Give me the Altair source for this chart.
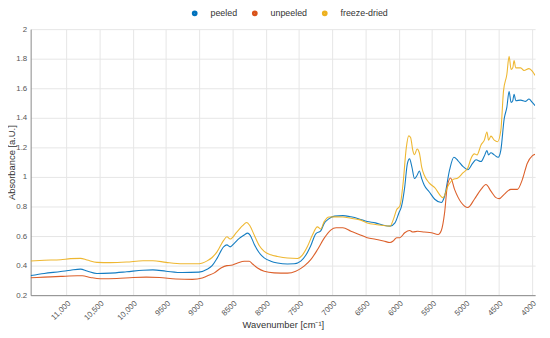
import altair as alt
import pandas as pd

# ---- data ----
peeled_wn = [11536, 11332, 11084, 10936, 10787, 10688, 10540, 10342, 10094, 9847, 9698, 9500, 9253, 9005,
             8883, 8808, 8734, 8635, 8586, 8537, 8475, 8400, 8325, 8275, 8235, 8175, 8100, 8025, 7925, 7825,
             7675, 7575, 7475, 7400, 7325, 7250, 7175, 7125, 7050, 6966, 6843, 6721, 6598, 6476, 6353, 6231,
             6133, 6059, 6000, 5961, 5912, 5873, 5839, 5804, 5765, 5726, 5692, 5657, 5618, 5545, 5461, 5362,
             5312, 5237, 5173, 5113, 5038, 4964, 4889, 4840, 4765, 4715, 4676, 4651, 4616, 4566, 4507, 4467,
             4417, 4377, 4343, 4313, 4288, 4268, 4243, 4169, 4094, 4044, 3995, 3952]
peeled_val = [0.333, 0.347, 0.360, 0.369, 0.376, 0.364, 0.347, 0.349, 0.358, 0.369, 0.371, 0.362, 0.353, 0.356,
              0.375, 0.400, 0.449, 0.527, 0.540, 0.527, 0.551, 0.584, 0.607, 0.620, 0.605, 0.545, 0.487, 0.452, 0.430, 0.418,
              0.411, 0.412, 0.430, 0.470, 0.535, 0.615, 0.635, 0.684, 0.718, 0.735, 0.738, 0.730, 0.716, 0.698, 0.689, 0.673,
              0.667, 0.689, 0.756, 0.800, 0.933, 1.089, 1.122, 1.067, 0.989, 1.011, 1.040, 0.989, 0.944, 0.900, 0.849, 0.827,
              0.871, 1.049, 1.133, 1.111, 1.071, 1.049, 1.093, 1.116, 1.104, 1.142, 1.178, 1.149, 1.164, 1.149, 1.133, 1.182,
              1.393, 1.471, 1.578, 1.504, 1.516, 1.560, 1.516, 1.520, 1.511, 1.527, 1.504, 1.482]

unpeeled_wn = [11536, 11332, 11084, 10837, 10760, 10639, 10490, 10240, 9995, 9797, 9599, 9352, 9104, 8956,
               8883, 8775, 8675, 8586, 8525, 8425, 8325, 8250, 8200, 8125, 8025, 7875, 7675, 7550, 7425, 7325,
               7225, 7125, 7025, 6943, 6843, 6721, 6598, 6476, 6353, 6231, 6133, 6084, 6034, 5985, 5912, 5839,
               5790, 5716, 5618, 5511, 5411, 5362, 5312, 5272, 5222, 5163, 5063, 4964, 4865, 4765, 4691, 4616,
               4541, 4492, 4417, 4318, 4218, 4144, 4069, 3995, 3952]
unpeeled_val = [0.318, 0.322, 0.327, 0.331, 0.331, 0.320, 0.311, 0.313, 0.320, 0.322, 0.320, 0.309, 0.307, 0.316,
                0.330, 0.351, 0.384, 0.400, 0.402, 0.418, 0.429, 0.429, 0.411, 0.384, 0.362, 0.351, 0.349, 0.362, 0.396, 0.440,
                0.507, 0.584, 0.640, 0.656, 0.656, 0.633, 0.611, 0.589, 0.578, 0.567, 0.556, 0.567, 0.589, 0.589, 0.622, 0.638,
                0.627, 0.633, 0.627, 0.622, 0.611, 0.638, 0.760, 0.938, 0.993, 0.916, 0.827, 0.793, 0.849, 0.916, 0.949, 0.904,
                0.860, 0.853, 0.882, 0.916, 0.916, 0.982, 1.093, 1.142, 1.153]

freeze_wn = [11536, 11332, 11084, 10936, 10787, 10688, 10540, 10342, 10094, 9847, 9698, 9500, 9253, 9005,
             8883, 8808, 8734, 8635, 8586, 8537, 8437, 8350, 8288, 8240, 8175, 8100, 8025, 7925, 7825, 7675,
             7525, 7451, 7375, 7300, 7225, 7175, 7125, 7050, 6966, 6843, 6721, 6598, 6476, 6353, 6231, 6133,
             6084, 6034, 5985, 5937, 5888, 5853, 5824, 5790, 5765, 5726, 5692, 5657, 5618, 5545, 5461, 5337,
             5262, 5188, 5113, 5038, 4964, 4914, 4865, 4825, 4765, 4715, 4676, 4651, 4616, 4566, 4517, 4467,
             4427, 4377, 4343, 4313, 4288, 4268, 4243, 4169, 4119, 4044, 3995, 3952]
freeze_val = [0.431, 0.436, 0.440, 0.447, 0.449, 0.438, 0.422, 0.420, 0.424, 0.433, 0.433, 0.422, 0.413, 0.413,
              0.432, 0.455, 0.493, 0.571, 0.595, 0.580, 0.627, 0.670, 0.692, 0.670, 0.607, 0.536, 0.496, 0.473, 0.462, 0.451,
              0.448, 0.471, 0.529, 0.607, 0.662, 0.648, 0.696, 0.729, 0.730, 0.729, 0.720, 0.711, 0.689, 0.678, 0.671, 0.667,
              0.711, 0.778, 0.804, 0.956, 1.200, 1.278, 1.267, 1.178, 1.150, 1.189, 1.162, 1.067, 1.011, 0.960, 0.927, 0.860,
              0.938, 0.982, 0.993, 1.027, 1.060, 1.127, 1.156, 1.149, 1.216, 1.249, 1.304, 1.249, 1.276, 1.249, 1.238, 1.316,
              1.582, 1.693, 1.816, 1.727, 1.738, 1.787, 1.738, 1.738, 1.720, 1.733, 1.716, 1.687]

series_names = ["peeled", "unpeeled", "freeze-dried"]
series_colors = ["#0072BD", "#D95319", "#EDB120"]
x_ticks = [11000, 10500, 10000, 9500, 9000, 8500, 8000, 7500, 7000, 6500, 6000, 5500, 5000, 4500, 4000]
y_ticks = [0.2, 0.4, 0.6, 0.8, 1.0, 1.2, 1.4, 1.6, 1.8, 2.0]

rows = []
for name, wns, vals in [("peeled", peeled_wn, peeled_val),
                        ("unpeeled", unpeeled_wn, unpeeled_val),
                        ("freeze-dried", freeze_wn, freeze_val)]:
    for w, v in zip(wns, vals):
        rows.append({"series": name, "wn": w, "value": v})
df = pd.DataFrame(rows)

FONT = "Liberation Sans"

chart = alt.Chart(df).mark_line(interpolate="monotone", strokeWidth=1.1, opacity=0.92, clip=True).encode(
    x=alt.X("wn:Q",
            scale=alt.Scale(domain=[11536, 3952], nice=False, zero=False),
            sort=None,
            axis=alt.Axis(title="Wavenumber [cm⁻¹]", values=x_ticks, ticks=False,
                          labelAngle=-45, labelFontSize=8, labelPadding=4,
                          labelExpr="datum.value >= 10000 ? format(datum.value, ',') : format(datum.value, 'd')",
                          titleFontSize=9.5, titleFontWeight="normal", titleY=30, titleBaseline="middle",
                          labelColor="#555", titleColor="#333",
                          domainColor="#888", gridColor="#e6e6e6", labelFont=FONT, titleFont=FONT)),
    y=alt.Y("value:Q",
            scale=alt.Scale(domain=[0.2, 2.0], nice=False, zero=False),
            axis=alt.Axis(title="Absorbance [a.U.]", values=y_ticks, format="~g", ticks=False,
                          labelFontSize=8, labelPadding=4, titleFontSize=9.5, titleFontWeight="normal",
                          titleX=-19, titleY=135, titleBaseline="middle", titleAngle=270,
                          labelColor="#555", titleColor="#333",
                          domainColor="#888", gridColor="#e6e6e6", labelFont=FONT, titleFont=FONT)),
    color=alt.Color("series:N",
                    scale=alt.Scale(domain=series_names, range=series_colors),
                    legend=alt.Legend(title=None, orient="none", direction="horizontal",
                                      legendX=162, legendY=-21, symbolType="circle", symbolSize=7,
                                      symbolStrokeWidth=3.2, symbolOpacity=1, labelFontSize=9, labelFont=FONT,
                                      labelColor="#333", columnPadding=9, labelOffset=11.5,
                                      padding=0)),
    order=alt.Order("series:N"),
).properties(
    width=512, height=270,
    autosize=alt.AutoSizeParams(type="none"),
    padding={"left": 23, "top": 19, "right": 7, "bottom": 40},
).configure_view(stroke=None)

chart.save("out.html", embed_options={"renderer": "svg", "actions": False})
